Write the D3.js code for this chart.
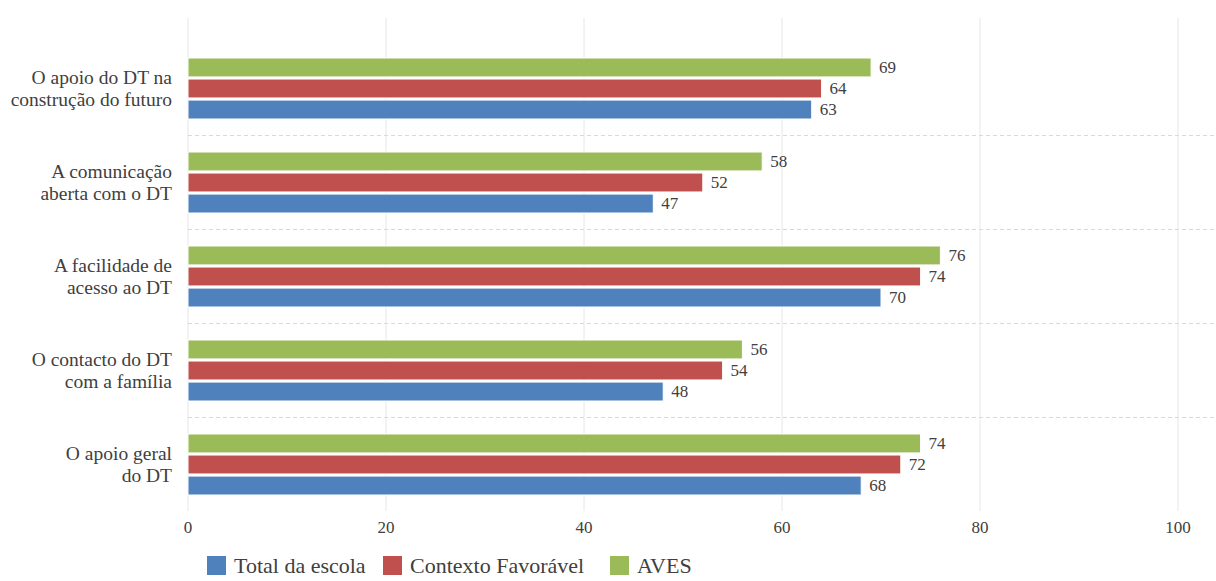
<!DOCTYPE html>
<html>
<head>
<meta charset="utf-8">
<script src="https://cdn.jsdelivr.net/npm/d3@7"></script>
<style>
  body { margin: 0; background: #fff; }
  svg text { font-family: "Liberation Serif", "DejaVu Serif", serif; fill: #404040; }
</style>
</head>
<body>
<div id="chart"></div>
<script>
var categories = [
  ["O apoio do DT na", "construção do futuro"],
  ["A comunicação", "aberta com o DT"],
  ["A facilidade de", "acesso ao DT"],
  ["O contacto do DT", "com a família"],
  ["O apoio geral", "do DT"]
];
var seriesNames = ["AVES", "Contexto Favorável", "Total da escola"];
var aves     = [69, 58, 76, 56, 74];
var contexto = [64, 52, 74, 54, 72];
var total    = [63, 47, 70, 48, 68];
var xTicks = [0, 20, 40, 60, 80, 100];

var seriesValues = [aves, contexto, total];
var colors = ["#9bbb59", "#c0504d", "#4f81bd"];

var W = 1216, H = 581;
var svg = d3.select("#chart").append("svg")
  .attr("width", W).attr("height", H);

var x = d3.scaleLinear().domain([0, 100]).range([188, 1178]);
var y = d3.scaleBand().domain(d3.range(categories.length)).range([41, 511]);
var ySub = d3.scaleBand().domain(d3.range(3)).range([17, 78]).paddingInner(0.1);

// vertical grid
svg.append("g").selectAll("line")
  .data(xTicks).enter().append("line")
  .attr("x1", function(d) { return x(d); })
  .attr("x2", function(d) { return x(d); })
  .attr("y1", 18).attr("y2", 511)
  .attr("stroke", "#e6e6e6").attr("stroke-width", 1);

// dashed separators between categories
svg.append("g").selectAll("line")
  .data(d3.range(1, categories.length)).enter().append("line")
  .attr("x1", 188).attr("x2", W)
  .attr("y1", function(i) { return y(i) + 0.5; })
  .attr("y2", function(i) { return y(i) + 0.5; })
  .attr("stroke", "#d9d9d9").attr("stroke-dasharray", "4,3");

// x tick labels
svg.append("g").selectAll("text")
  .data(xTicks).enter().append("text")
  .attr("x", function(d) { return x(d); })
  .attr("y", 533)
  .attr("text-anchor", "middle")
  .style("font-size", "17px")
  .text(function(d) { return d; });

// category labels
var cat = svg.append("g").selectAll("text")
  .data(categories).enter().append("text")
  .attr("text-anchor", "end")
  .style("font-size", "19.5px")
  .attr("y", function(d, i) { return y(i) + y.bandwidth() / 2; });
cat.selectAll("tspan")
  .data(function(d) { return d; }).enter().append("tspan")
  .attr("x", 172)
  .attr("dy", function(d, j) { return j === 0 ? "-0.22em" : "1.15em"; })
  .text(function(d) { return d; });

// bars
seriesValues.forEach(function(vals, s) {
  var g = svg.append("g");
  g.selectAll("rect")
    .data(vals).enter().append("rect")
    .attr("x", x(0))
    .attr("y", function(d, i) { return y(i) + ySub(s); })
    .attr("width", function(d) { return x(d) - x(0); })
    .attr("height", ySub.bandwidth())
    .attr("fill", colors[s])
    .attr("stroke", "#fff").attr("stroke-width", 1);
  g.selectAll("text")
    .data(vals).enter().append("text")
    .attr("x", function(d) { return x(d) + 8; })
    .attr("y", function(d, i) { return y(i) + ySub(s) + ySub.bandwidth() / 2; })
    .attr("dy", "0.35em")
    .style("font-size", "17px")
    .text(function(d) { return d; });
});

// legend
var legendOrder = [2, 1, 0];
var legendX = [207, 383, 610];
var lg = svg.append("g").selectAll("g")
  .data(legendOrder).enter().append("g")
  .attr("transform", function(d, i) { return "translate(" + legendX[i] + ",556)"; });
lg.append("rect")
  .attr("width", 19).attr("height", 19)
  .attr("fill", function(d) { return colors[d]; });
lg.append("text")
  .attr("x", 27).attr("y", 10)
  .attr("dy", "0.33em")
  .style("font-size", "22px")
  .text(function(d) { return seriesNames[d]; });
</script>
</body>
</html>
